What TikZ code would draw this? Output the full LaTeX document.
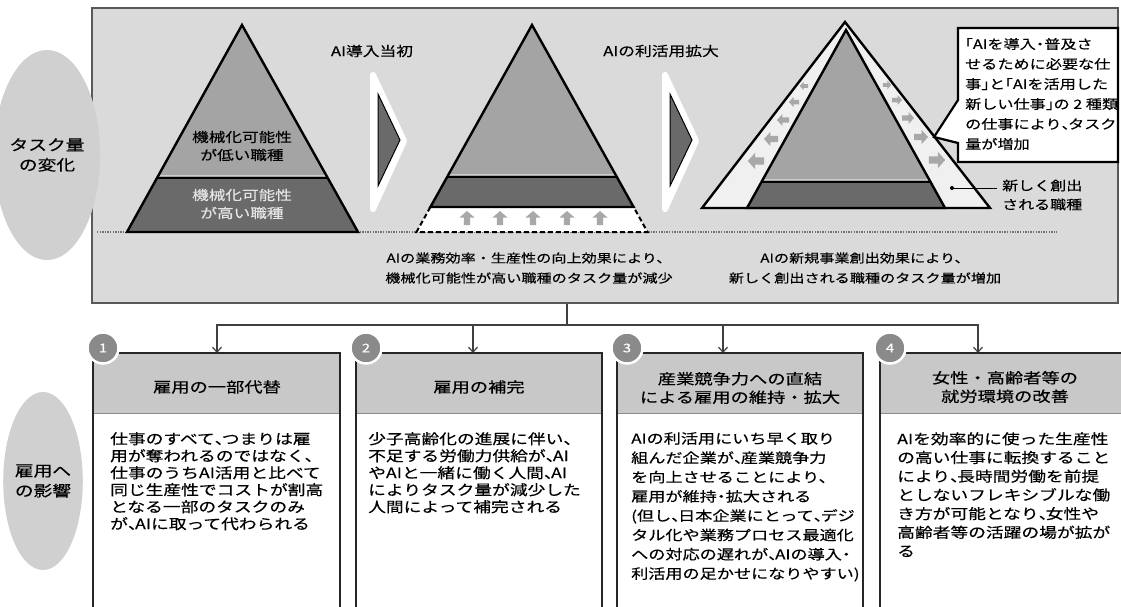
\documentclass[tikz,border=0pt]{standalone}
\usepackage{fontspec}
\setmainfont{Noto Sans CJK JP}[FakeStretch=1.25, FakeBold=0.35]
\usetikzlibrary{arrows.meta,shapes.geometric}
\definecolor{panelbg}{HTML}{DADADA}
\definecolor{ellbg}{HTML}{D0D0D0}
\definecolor{upgray}{HTML}{A4A4A4}
\definecolor{dkgray}{HTML}{6A6A6A}
\definecolor{stripbg}{HTML}{F0F0F0}
\definecolor{arrgray}{HTML}{A8A8A8}
\definecolor{hdrbg}{HTML}{C8C8C8}
\definecolor{badgebg}{HTML}{8A8A8A}
\newcommand\hcm{\makebox[0.5em][l]{、}}
\newcommand\hdot{\makebox[0.65em][c]{・}}
\newcommand\lbk{\makebox[0.6em][r]{「}}
\newcommand\rbk{\makebox[0.6em][l]{」}}
\begin{document}
\begin{tikzpicture}[x=1pt,y=-1pt,
  ell/.style={ellipse, fill=ellbg, inner sep=0pt, align=center, font=\fontsize{15}{20}\selectfont},
  tri/.style={draw=black, line width=2.4pt, line join=miter},
  divline/.style={draw=black, line width=1.6pt},
  lightline/.style={draw=white!80!black, line width=1.2pt},
  conn/.style={draw=black!75, line width=1.3pt},
  arr/.style={conn, -{Straight Barb[length=5pt,width=9pt,line width=1.2pt]}},
  boxline/.style={draw=black!85, line width=2pt},
  badge/.style={circle, fill=badgebg, draw=white, line width=2.5pt, minimum size=31pt, inner sep=0pt, text=white, font=\fontsize{12}{12}\selectfont},
  hdrtext/.style={align=center, font=\fontsize{14.6}{18.5}\selectfont, inner sep=0pt},
  bodytext/.style={align=left, anchor=north west, inner sep=0pt},
  captext/.style={align=center, font=\fontsize{12.1}{20}\selectfont, inner sep=0pt},
  stagetext/.style={font=\fontsize{13.4}{15}\selectfont, inner sep=0pt},
  trilabel/.style={align=center, font=\fontsize{13.3}{18}\selectfont, inner sep=0pt}]
\useasboundingbox (0,0) rectangle (1121,606);
\fill[white] (0,0) rectangle (1121,606);

% ---------------- top panel ----------------
\node[draw=black!65, line width=2pt, fill=panelbg, minimum width=1026pt, minimum height=295pt, inner sep=0pt] (panel) at (605,155.5) {};
\node[ell, minimum width=80pt, minimum height=210pt] (e1) at (47,155) {タスク量\\の変化};
\node[ell, minimum width=72pt, minimum height=178pt] (e2) at (43,481) {雇用へ\\の影響};

\draw[black!55, line width=1.4pt, dash pattern=on 1.3pt off 1.3pt] (97,232) -- (1057,232);

% triangle 1
\fill[upgray] (242,25) -- (127,232) -- (358,232) -- cycle;
\fill[dkgray] (156.6,178) -- (327.4,178) -- (358,232) -- (127,232) -- cycle;
\draw[lightline] (157.8,175.8) -- (326.2,175.8);
\draw[divline] (156.6,178) -- (327.4,178);
\draw[tri] (242,25) -- (127,232) -- (358,232) -- cycle;
\node[trilabel] (t1up) at (242,146) {機械化可能性\\が低い職種};
\node[trilabel, text=white!90!black] (t1lo) at (242,204) {機械化可能性\\が高い職種};

% stage labels and chevrons
\node[stagetext] (s1) at (372,51) {AI導入当初};
\node[stagetext] (s2) at (661,51) {AIの利活用拡大};
\foreach \dx in {0,292}{
  \filldraw[white, line width=6pt, line join=round] (373+\dx,75) -- (404+\dx,141) -- (373+\dx,209) -- cycle;
  \filldraw[fill=dkgray, draw=black, line width=1pt] (378+\dx,94) -- (400+\dx,140) -- (378+\dx,186) -- cycle;
}

% triangle 2
\filldraw[fill=white, draw=black, line width=2pt, dash pattern=on 5pt off 3pt] (430.4,207) -- (416.5,232) -- (647.5,232) -- (633.6,207);
\foreach \ax in {467,500,533,567,600}{
  \fill[arrgray] (\ax,211) -- (\ax+7.5,217.5) -- (\ax+3.2,217.5) -- (\ax+3.2,225) -- (\ax-3.2,225) -- (\ax-3.2,217.5) -- (\ax-7.5,217.5) -- cycle;
}
\fill[upgray] (532,25) -- (430.4,207) -- (633.6,207) -- cycle;
\fill[dkgray] (447.2,177) -- (616.8,177) -- (633.6,207) -- (430.4,207) -- cycle;
\draw[lightline] (448.4,174.8) -- (615.6,174.8);
\draw[divline] (447.2,177) -- (616.8,177);
\draw[tri] (532,25) -- (430.4,207) -- (633.6,207) -- cycle;

% triangle 3
\filldraw[fill=stripbg, tri] (845,22) -- (702,208) -- (990,208) -- cycle;
\foreach \cx/\cy/\s in {756/161/8.2, 771/139/7, 783/120/6, 794/102/5, 804/86/4.2}{
  \fill[arrgray] (\cx-\s,\cy) -- (\cx-0.1*\s,\cy-\s) -- (\cx-0.1*\s,\cy-0.45*\s) -- (\cx+\s,\cy-0.45*\s) -- (\cx+\s,\cy+0.45*\s) -- (\cx-0.1*\s,\cy+0.45*\s) -- (\cx-0.1*\s,\cy+\s) -- cycle;
}
\foreach \cx/\cy/\s in {937/160/8.2, 921/137/7, 908/118/6, 897/100/5, 887/85/4.2}{
  \fill[arrgray] (\cx+\s,\cy) -- (\cx+0.1*\s,\cy-\s) -- (\cx+0.1*\s,\cy-0.45*\s) -- (\cx-\s,\cy-0.45*\s) -- (\cx-\s,\cy+0.45*\s) -- (\cx+0.1*\s,\cy+0.45*\s) -- (\cx+0.1*\s,\cy+\s) -- cycle;
}
\fill[upgray] (846,30) -- (747,208) -- (945,208) -- cycle;
\fill[dkgray] (761.5,182) -- (930.5,182) -- (945,208) -- (747,208) -- cycle;
\draw[lightline] (762.7,179.8) -- (929.3,179.8);
\draw[divline] (761.5,182) -- (930.5,182);
\draw[tri] (846,30) -- (747,208) -- (945,208) -- cycle;

% callout
\filldraw[fill=white, draw=black, line width=2.2pt, line join=miter] (958,28) -- (1118,28) -- (1118,162) -- (958,162) -- (958,143) -- (934,137) -- (958,100) -- cycle;
\node[align=left, anchor=west, inner sep=0pt, font=\fontsize{12.9}{20}\selectfont] (callout) at (965,94) {\lbk AIを導入\hdot 普及さ\\せるために必要な仕\\事\rbk と\lbk AIを活用した\\新しい仕事\rbk の 2 種類\\の仕事により\hcm タスク\\量が増加};

% new job label
\node[align=left, anchor=west, inner sep=0pt, font=\fontsize{12.8}{19}\selectfont] (newjob) at (1002,195) {新しく創出\\される職種};
\coordinate (nj) at (952,188);
\fill[black] (nj) circle (2pt);
\draw[black, line width=1pt] (nj) -- (nj -| 997,0);

% captions
\node[captext] (c1) at (529,268) {AIの業務効率・生産性の向上効果により、\\機械化可能性が高い職種のタスク量が減少};
\node[captext] (c2) at (865,268) {AIの新規事業創出効果により、\\新しく創出される職種のタスク量が増加};

% ---------------- bottom boxes ----------------
\foreach \L/\R in {93/340, 356/602, 617/863, 880/1140}{
  \fill[hdrbg] (\L,353) rectangle (\R,413);
  \draw[black!45, line width=1pt] (\L,413) -- (\R,413);
  \draw[boxline] (\L,640) -- (\L,353) -- (\R,353) -- (\R,640);
}
\node[badge] (b1) at (103,348) {1};
\node[badge] (b2) at (366,348) {2};
\node[badge] (b3) at (627,348) {3};
\node[badge] (b4) at (890,348) {4};

\node[hdrtext] (h1) at (217,387) {雇用の一部代替};
\node[hdrtext] (h2) at (479,387) {雇用の補完};
\node[hdrtext] (h3) at (740,388) {産業競争力への直結\\による雇用の維持・拡大};
\node[hdrtext] (h4) at (1005,387) {女性・高齢者等の\\就労環境の改善};

\node[bodytext, font=\fontsize{14.2}{17}\selectfont] (p1) at (110,432) {仕事のすべて\hcm つまりは雇\\用が奪われるのではなく、\\仕事のうちAI活用と比べて\\同じ生産性でコストが割高\\となる一部のタスクのみ\\が\hcm AIに取って代わられる};
\node[bodytext, font=\fontsize{14.2}{17}\selectfont] (p2) at (368,432) {少子高齢化の進展に伴い、\\不足する労働力供給が\hcm AI\\やAIと一緒に働く人間\hcm AI\\によりタスク量が減少した\\人間によって補完される};
\node[bodytext, font=\fontsize{13.7}{19.3}\selectfont] (p3) at (631,432) {AIの利活用にいち早く取り\\組んだ企業が\hcm 産業競争力\\を向上させることにより、\\雇用が維持\hdot 拡大される\\(但し\hcm 日本企業にとって\hcm デジ\\タル化や業務プロセス最適化\\への対応の遅れが\hcm AIの導入\hdot\\利活用の足かせになりやすい)};
\node[bodytext, font=\fontsize{14.2}{18.7}\selectfont] (p4) at (897,432) {AIを効率的に使った生産性\\の高い仕事に転換すること\\により\hcm 長時間労働を前提\\としないフレキシブルな働\\き方が可能となり\hcm 女性や\\高齢者等の活躍の場が拡が\\る};

% connectors
\coordinate (hub) at (567,325);
\coordinate (t1) at (217,353);
\coordinate (t2) at (473,353);
\coordinate (t3) at (723,353);
\coordinate (t4) at (978,353);
\draw[conn] (hub |- panel.south) -- (hub);
\draw[arr] (hub) -| (t1);
\draw[arr] (hub) -| (t2);
\draw[arr] (hub) -| (t3);
\draw[arr] (hub) -| (t4);
\end{tikzpicture}
\end{document}
